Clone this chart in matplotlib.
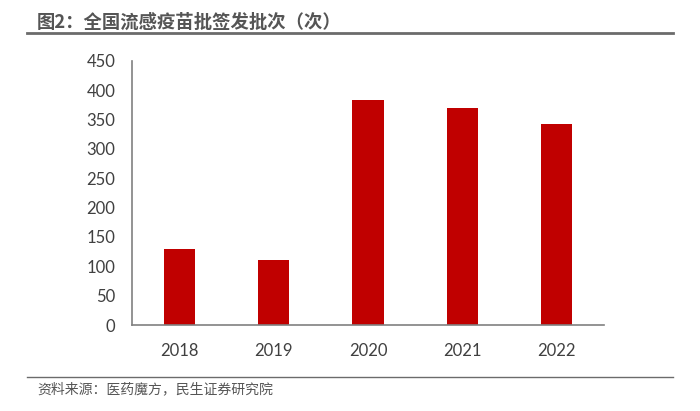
import matplotlib
matplotlib.use("Agg")
import matplotlib.pyplot as plt
from matplotlib.lines import Line2D

plt.rcParams['font.family'] = ['Lato', 'Noto Sans CJK SC', 'DejaVu Sans']

years = ['2018', '2019', '2020', '2021', '2022']
batches = [130, 110, 383, 370, 342]
yticks = [0, 50, 100, 150, 200, 250, 300, 350, 400, 450]

title = '图2：全国流感疫苗批签发批次（次）'
source = '资料来源：医药魔方，民生证券研究院'

fig = plt.figure(figsize=(7, 4.11), dpi=100)
ax = fig.add_axes([132/700, 1-325/411, (604-132)/700, (325-60.7)/411])

x = range(len(years))
ax.bar(x, batches, width=0.33, color='#C00000', zorder=2)
ax.set_xlim(-0.5, len(years)-0.5)
ax.set_ylim(0, 450)
ax.set_yticks(yticks)
ax.set_xticks(list(x))
ax.set_xticklabels(years)
for s in ['top', 'right']:
    ax.spines[s].set_visible(False)
for s in ['left', 'bottom']:
    ax.spines[s].set_color('#808080')
    ax.spines[s].set_linewidth(1.2)
ax.tick_params(axis='both', length=0, labelsize=12, colors='#404040')
ax.tick_params(axis='y', pad=12)
ax.tick_params(axis='x', pad=13)

fig.text(37/700, 1-22/411, title, fontsize=13.2, fontweight='bold', color='#555555',
         family=['Noto Sans CJK SC', 'DejaVu Sans'], va='center', ha='left')
fig.add_artist(Line2D([27/700, 673/700], [1-33/411, 1-33/411], color='#6b6b6b', linewidth=2))
fig.add_artist(Line2D([27/700, 673/700], [1-377/411, 1-377/411], color='#6b6b6b', linewidth=1))
fig.text(37/700, 1-389/411, source, fontsize=10, color='#555555',
         family=['Noto Sans CJK SC', 'DejaVu Sans'], va='center', ha='left')

fig.savefig('out.png', dpi=100)
